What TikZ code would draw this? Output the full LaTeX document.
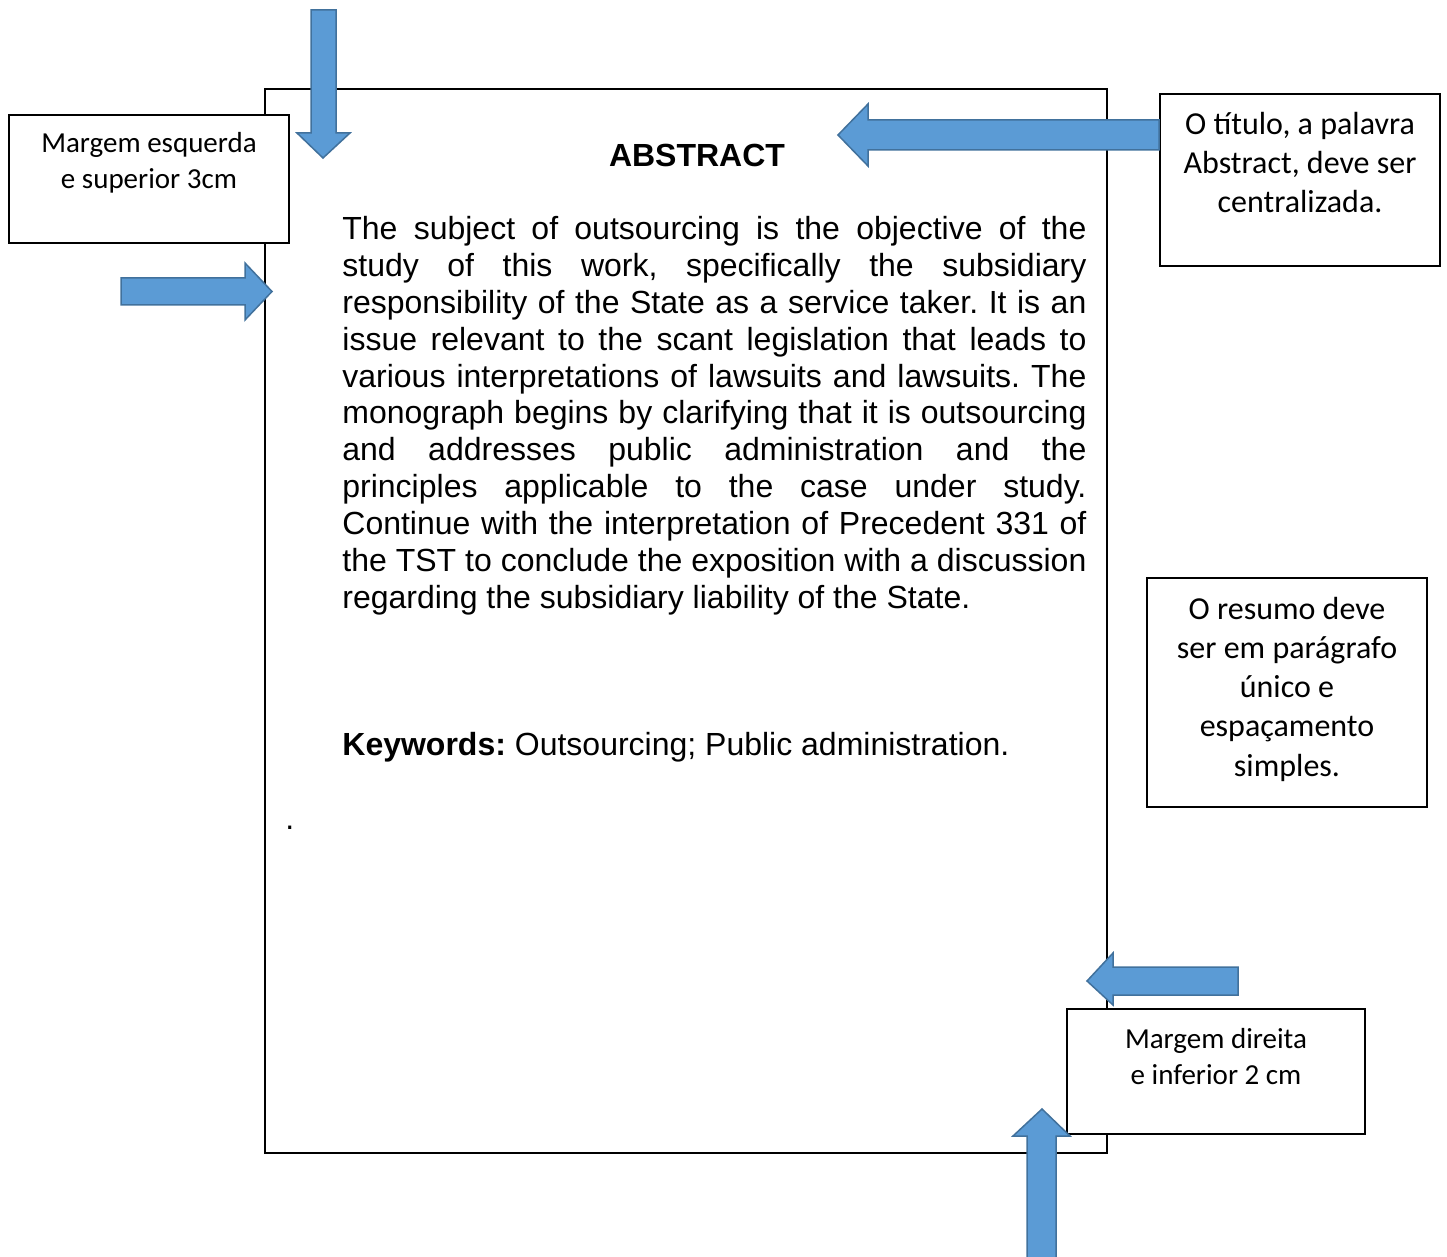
\documentclass[tikz,border=0pt]{standalone}
\usepackage{fontspec}
\setmainfont{Liberation Sans}
\newfontfamily\calibri{Carlito}
\frenchspacing
\definecolor{arrowfill}{HTML}{5B9BD5}
\definecolor{arrowedge}{HTML}{41719C}
\begin{document}
\begin{tikzpicture}[x=0.5bp,y=-0.5bp,
  pagebox/.style={draw=black,line width=1bp,fill=white,rectangle,inner sep=0pt},
  callbox/.style={draw=black,line width=1bp,fill=white,rectangle,inner sep=0pt,minimum width=140bp},
  calltext/.style={anchor=base,inner sep=0pt,font=\calibri\fontsize{14.5bp}{18bp}\selectfont},
  bigcalltext/.style={anchor=base,inner sep=0pt,font=\calibri\fontsize{16bp}{19.5bp}\selectfont},
  bodyline/.style={anchor=base west,inner sep=0pt,font=\fontsize{16bp}{18.4bp}\selectfont},
  blockarrow/.style={fill=arrowfill,draw=arrowedge,line width=0.75bp,line join=miter}]
\useasboundingbox (0,0) rectangle (1447,1257);

% page outline
\node[pagebox,minimum width=421bp,minimum height=532bp] (page) at (686,621) {};

% title and abstract body
\node[anchor=base,inner sep=0pt,font=\bfseries\fontsize{16bp}{18.4bp}\selectfont] (title) at (697,167) {ABSTRACT};
\node[bodyline] (l1) at (342,240.0) {\makebox[372bp][s]{The subject of outsourcing is the objective of the}};
\node[bodyline] (l2) at (342,276.8) {\makebox[372bp][s]{study of this work, specifically the subsidiary}};
\node[bodyline] (l3) at (342,313.6) {\makebox[372bp][s]{responsibility of the State as a service taker. It is an}};
\node[bodyline] (l4) at (342,350.4) {\makebox[372bp][s]{issue relevant to the scant legislation that leads to}};
\node[bodyline] (l5) at (342,387.2) {\makebox[372bp][s]{various interpretations of lawsuits and lawsuits. The}};
\node[bodyline] (l6) at (342,424.0) {\makebox[372bp][s]{monograph begins by clarifying that it is outsourcing}};
\node[bodyline] (l7) at (342,460.8) {\makebox[372bp][s]{and addresses public administration and the}};
\node[bodyline] (l8) at (342,497.6) {\makebox[372bp][s]{principles applicable to the case under study.}};
\node[bodyline] (l9) at (342,534.4) {\makebox[372bp][s]{Continue with the interpretation of Precedent 331 of}};
\node[bodyline] (l10) at (342,571.2) {\makebox[372bp][s]{the TST to conclude the exposition with a discussion}};
\node[bodyline] (l11) at (342,608.0) {regarding the subsidiary liability of the State.};
\node[bodyline] (kw) at (342,755) {\textbf{Keywords:} Outsourcing; Public administration.};
\node[bodyline] (dot) at (285,829) {.};

% callout boxes
\node[callbox,minimum height=64bp] (leftbox) at (149,179) {};
\node[calltext] (lt1) at (149,153) {Margem esquerda};
\node[calltext] (lt2) at (149,189) {e superior 3cm};

\node[callbox,minimum height=86bp] (titlebox) at (1300,180) {};
\node[bigcalltext] (tt1) at (1300,135) {O título, a palavra};
\node[bigcalltext] (tt2) at (1300,174) {Abstract, deve ser};
\node[bigcalltext] (tt3) at (1300,213) {centralizada.};

\node[callbox,minimum height=114.5bp] (sumbox) at (1287,692.5) {};
\node[bigcalltext] (st1) at (1287,619) {O resumo deve};
\node[bigcalltext] (st2) at (1287,658) {ser em parágrafo};
\node[bigcalltext] (st3) at (1287,697) {único e};
\node[bigcalltext] (st4) at (1287,736) {espaçamento};
\node[bigcalltext] (st5) at (1287,776) {simples.};

\node[callbox,minimum width=149bp,minimum height=62.5bp] (rightbox) at (1216,1071.5) {};
\node[calltext] (rt1) at (1216,1048) {Margem direita};
\node[calltext] (rt2) at (1216,1084) {e inferior 2 cm};

% block arrows marking the margins and the title
\draw[blockarrow] (311,10) -- (336,10) -- (336,133) -- (350,133) -- (323,158) -- (297,133) -- (311,133) -- cycle;
\draw[blockarrow] (121,278) -- (245,278) -- (245,263) -- (272,291.5) -- (245,320) -- (245,305) -- (121,305) -- cycle;
\draw[blockarrow] (titlebox.west |- 0,120) -- (868,120) -- (868,104) -- (838,135) -- (868,166) -- (868,150) -- (titlebox.west |- 0,150) -- cycle;
\draw[blockarrow] (1238,967) -- (1113,967) -- (1113,953) -- (1087,981) -- (1113,1005) -- (1113,995) -- (1238,995) -- cycle;
\draw[blockarrow] (1027,1262) -- (1027,1136) -- (1013,1136) -- (1042,1109) -- (1070,1136) -- (1056,1136) -- (1056,1262) -- cycle;
\end{tikzpicture}
\end{document}
